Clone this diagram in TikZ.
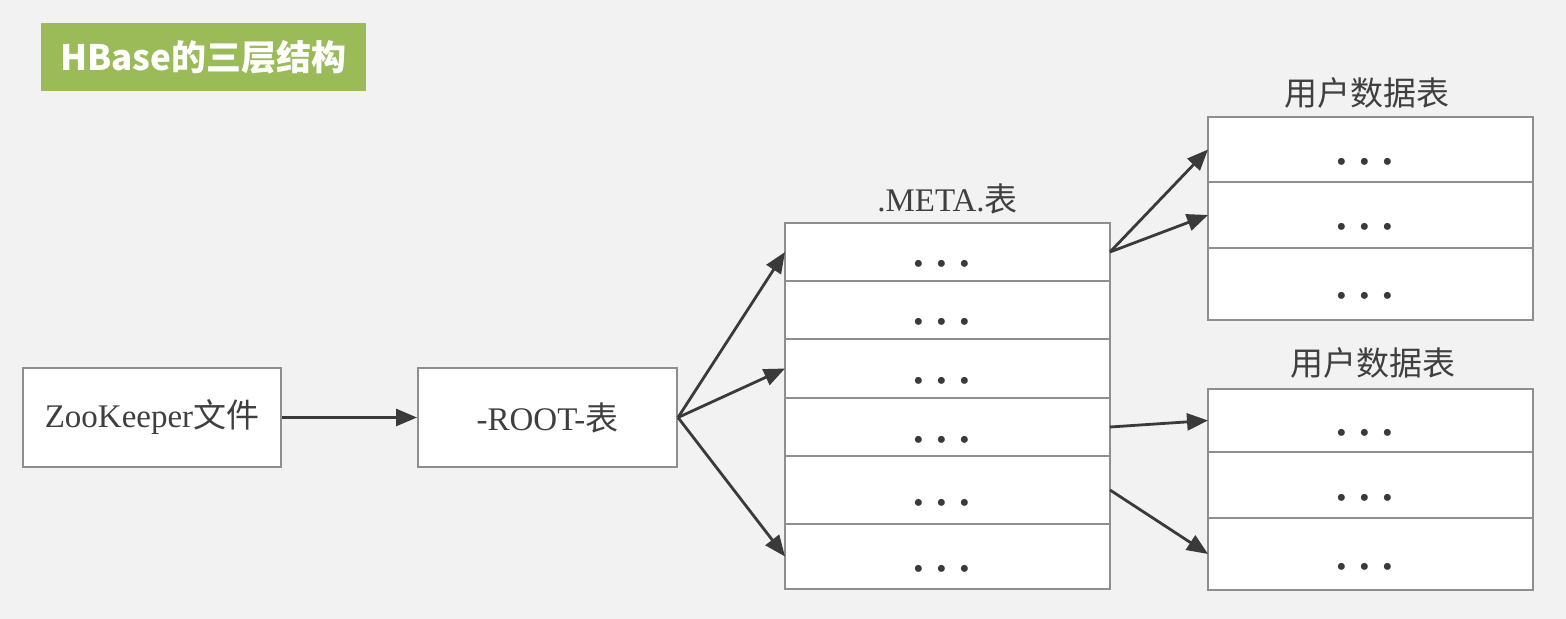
\documentclass[tikz,border=0pt]{standalone}
\usepackage{fontspec}
\setmainfont{Liberation Serif}
\newfontfamily\cjk{Noto Sans CJK SC}
\usetikzlibrary{arrows.meta,positioning}
\definecolor{bg}{HTML}{F2F2F2}
\definecolor{ink}{HTML}{3A3A3A}
\definecolor{frame}{HTML}{8E8E8E}
\definecolor{titlegreen}{HTML}{9BBB59}
\definecolor{txt}{HTML}{3F3F3F}
\newcommand{\rowdots}{\raisebox{-11pt}{\fontsize{14.5}{15}\selectfont\makebox[11.5pt]{\textbullet}\makebox[11.5pt]{\textbullet}\makebox[11.5pt]{\textbullet}\hspace{6pt}}}
\tikzset{
  box/.style={draw=frame,line width=1pt,fill=white,minimum width=129pt,minimum height=49.5pt,inner sep=0pt,font=\fontsize{16.5}{18}\selectfont,text=txt},
  tabrow/.style={draw=frame,line width=1.2pt,fill=white,minimum width=162.5pt,inner sep=0pt,outer sep=0pt,text=ink,text height=0pt,text depth=0pt},
  lbl/.style={font=\fontsize{16.5}{18}\selectfont,text=txt,inner sep=0pt},
  ttl/.style={fill=titlegreen,text=white,minimum width=162.5pt,minimum height=34pt,inner sep=0pt,font=\cjk\bfseries\fontsize{17.5}{19}\selectfont},
  ar/.style={-{Triangle[length=10.5pt,width=8.5pt]},draw=ink,line width=1.4pt},
}

\begin{document}
\begin{tikzpicture}[x=0.5pt,y=-0.5pt]
  \fill[bg] (0,0) rectangle (1566,619);
  \useasboundingbox (0,0) rectangle (1566,619);

  \node[ttl] (title) at (203.5,57) {HBase的三层结构};

  \node[box] (zk) at (152,417.5) {ZooKeeper{\cjk 文件}};
  \node[box,minimum width=129.5pt] (root) at (547.5,417.5) {-ROOT-{\cjk 表}};

  \node[tabrow,minimum height=29pt] (meta1) at (947.5,252) {\rowdots};
  \node[tabrow,minimum height=29pt,below=0pt of meta1] (meta2) {\rowdots};
  \node[tabrow,minimum height=29.5pt,below=0pt of meta2] (meta3) {\rowdots};
  \node[tabrow,minimum height=29pt,below=0pt of meta3] (meta4) {\rowdots};
  \node[tabrow,minimum height=34pt,below=0pt of meta4] (meta5) {\rowdots};
  \node[tabrow,minimum height=32.5pt,below=0pt of meta5] (meta6) {\rowdots};
  \node[lbl,above=4pt of meta1] (metalbl) {.META.{\cjk 表}};

  \node[tabrow,minimum height=32.5pt] (ua1) at (1370.5,149.5) {\rowdots};
  \node[tabrow,minimum height=33pt,below=0pt of ua1] (ua2) {\rowdots};
  \node[tabrow,minimum height=36pt,below=0pt of ua2] (ua3) {\rowdots};
  \node[lbl,above=4pt of ua1,xshift=-2pt] (ualbl) {{\cjk 用户数据表}};

  \node[tabrow,minimum height=31.5pt] (ub1) at (1370.5,420.5) {\rowdots};
  \node[tabrow,minimum height=33pt,below=0pt of ub1] (ub2) {\rowdots};
  \node[tabrow,minimum height=36pt,below=0pt of ub2] (ub3) {\rowdots};
  \node[lbl,above=5pt of ub1,xshift=1pt] (ublbl) {{\cjk 用户数据表}};

  \draw[ar] (zk) -- (root);
  \draw[ar] (root.east) -- (meta1.west);
  \draw[ar] (root.east) -- (meta3.west);
  \draw[ar] (root.east) -- (meta6.west);
  \draw[ar] (meta1.east) -- (ua1.west);
  \draw[ar] (meta1.east) -- (ua2.west);
  \draw[ar] (meta4.east) -- (ub1.west);
  \draw[ar] (meta5.east) -- (ub3.west);
\end{tikzpicture}
\end{document}
